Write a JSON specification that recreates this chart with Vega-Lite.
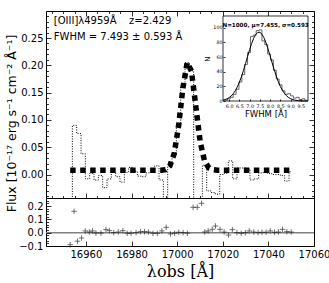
{
  "$schema": "https://vega.github.io/schema/vega-lite/v6.json",
  "padding": {"left": 4, "top": 10, "right": 0, "bottom": 0},
  "spacing": 0,
  "bounds": "flush",
  "datasets": {
    "one": [{"k": 1}],
    "spec": [
      {"lam": 16953.1, "f": -0.06, "m": 0.008},
      {"lam": 16955.0, "f": 0.09, "m": 0.008},
      {"lam": 16956.9, "f": 0.075, "m": 0.008},
      {"lam": 16958.8, "f": 0.038, "m": 0.008},
      {"lam": 16960.7, "f": -0.008, "m": 0.008},
      {"lam": 16962.6, "f": 0.002, "m": 0.008},
      {"lam": 16964.5, "f": -0.01, "m": 0.008},
      {"lam": 16966.4, "f": -0.002, "m": 0.008},
      {"lam": 16968.3, "f": -0.024, "m": 0.008},
      {"lam": 16970.2, "f": -0.008, "m": 0.008},
      {"lam": 16972.1, "f": 0.004, "m": 0.008},
      {"lam": 16974.0, "f": -0.004, "m": 0.008},
      {"lam": 16975.9, "f": -0.014, "m": 0.008},
      {"lam": 16977.8, "f": 0.004, "m": 0.008},
      {"lam": 16979.7, "f": 0.013, "m": 0.008},
      {"lam": 16981.6, "f": 0.006, "m": 0.008},
      {"lam": 16983.5, "f": -0.003, "m": 0.008},
      {"lam": 16985.4, "f": -0.004, "m": 0.008},
      {"lam": 16987.3, "f": 0.003, "m": 0.008},
      {"lam": 16989.2, "f": 0.01, "m": 0.008},
      {"lam": 16991.1, "f": 0.016, "m": 0.008},
      {"lam": 16993.0, "f": -0.01, "m": 0.008},
      {"lam": 16994.9, "f": -0.06, "m": 0.009},
      {"lam": 16996.8, "f": 0.016, "m": 0.016},
      {"lam": 16998.7, "f": 0.04, "m": 0.038},
      {"lam": 17000.6, "f": 0.09, "m": 0.088},
      {"lam": 17002.5, "f": 0.16, "m": 0.158},
      {"lam": 17004.4, "f": 0.205, "m": 0.205},
      {"lam": 17006.3, "f": 0.19, "m": 0.189},
      {"lam": 17008.2, "f": -0.06, "m": 0.124},
      {"lam": 17010.1, "f": -0.06, "m": 0.06},
      {"lam": 17012.0, "f": 0.017, "m": 0.025},
      {"lam": 17013.9, "f": -0.03, "m": 0.012},
      {"lam": 17015.8, "f": -0.033, "m": 0.009},
      {"lam": 17017.7, "f": -0.036, "m": 0.008},
      {"lam": 17019.6, "f": 0.0, "m": 0.008},
      {"lam": 17021.5, "f": 0.002, "m": 0.008},
      {"lam": 17023.4, "f": 0.025, "m": 0.008},
      {"lam": 17025.3, "f": -0.008, "m": 0.008},
      {"lam": 17027.2, "f": 0.012, "m": 0.008},
      {"lam": 17029.1, "f": 0.012, "m": 0.008},
      {"lam": 17031.0, "f": 0.01, "m": 0.008},
      {"lam": 17032.9, "f": -0.01, "m": 0.008},
      {"lam": 17034.8, "f": -0.008, "m": 0.008},
      {"lam": 17036.7, "f": 0.003, "m": 0.008},
      {"lam": 17038.6, "f": 0.004, "m": 0.008},
      {"lam": 17040.5, "f": 0.002, "m": 0.008},
      {"lam": 17042.4, "f": 0.0, "m": 0.008},
      {"lam": 17044.3, "f": 0.0, "m": 0.008},
      {"lam": 17046.2, "f": -0.002, "m": 0.008},
      {"lam": 17048.1, "f": -0.012, "m": 0.008},
      {"lam": 17050.0, "f": 0.005, "m": 0.008}
    ],
    "resid": [
      {"lam": 16953.1, "r": -0.09}, {"lam": 16954.8, "r": 0.16}, {"lam": 16956.3, "r": -0.064},
      {"lam": 16958.1, "r": -0.04}, {"lam": 16959.7, "r": 0.013}, {"lam": 16961.5, "r": 0.005},
      {"lam": 16962.9, "r": 0.013}, {"lam": 16964.4, "r": -0.003}, {"lam": 16966.6, "r": -0.003},
      {"lam": 16968.8, "r": 0.023}, {"lam": 16970.3, "r": 0.015}, {"lam": 16972.2, "r": 0.0},
      {"lam": 16974.2, "r": 0.005}, {"lam": 16976.2, "r": 0.015}, {"lam": 16978.1, "r": -0.005},
      {"lam": 16979.8, "r": -0.005}, {"lam": 16982.0, "r": 0.0}, {"lam": 16983.9, "r": 0.008},
      {"lam": 16985.7, "r": 0.008}, {"lam": 16987.4, "r": 0.005}, {"lam": 16989.4, "r": -0.005},
      {"lam": 16991.3, "r": -0.005}, {"lam": 16993.3, "r": 0.013}, {"lam": 16995.2, "r": 0.04},
      {"lam": 16997.1, "r": -0.01}, {"lam": 16998.9, "r": -0.005}, {"lam": 17000.7, "r": 0.003},
      {"lam": 17002.6, "r": 0.0}, {"lam": 17004.5, "r": -0.004}, {"lam": 17007.0, "r": 0.19},
      {"lam": 17008.8, "r": 0.19}, {"lam": 17010.7, "r": 0.22}, {"lam": 17012.1, "r": 0.005},
      {"lam": 17013.6, "r": 0.013}, {"lam": 17015.4, "r": 0.025}, {"lam": 17016.8, "r": 0.05},
      {"lam": 17018.8, "r": 0.025}, {"lam": 17020.6, "r": 0.005}, {"lam": 17022.5, "r": -0.018},
      {"lam": 17024.2, "r": 0.023}, {"lam": 17026.2, "r": 0.0}, {"lam": 17028.1, "r": -0.005},
      {"lam": 17029.9, "r": 0.0}, {"lam": 17031.6, "r": 0.013}, {"lam": 17033.6, "r": 0.005},
      {"lam": 17035.5, "r": 0.0}, {"lam": 17037.2, "r": 0.003}, {"lam": 17039.0, "r": 0.003},
      {"lam": 17040.8, "r": 0.013}, {"lam": 17042.7, "r": 0.003}, {"lam": 17044.4, "r": 0.005},
      {"lam": 17046.2, "r": 0.025}, {"lam": 17048.1, "r": 0.008}, {"lam": 17050.0, "r": 0.005}
    ],
    "hist": [
      {"i": 0, "e": 5.78, "c": 0}, {"i": 1, "e": 5.78, "c": 1}, {"i": 2, "e": 5.92, "c": 3},
      {"i": 3, "e": 6.06, "c": 5}, {"i": 4, "e": 6.20, "c": 9}, {"i": 5, "e": 6.34, "c": 16},
      {"i": 6, "e": 6.48, "c": 26}, {"i": 7, "e": 6.62, "c": 36}, {"i": 8, "e": 6.76, "c": 50},
      {"i": 9, "e": 6.90, "c": 66}, {"i": 10, "e": 7.04, "c": 88}, {"i": 11, "e": 7.18, "c": 90},
      {"i": 12, "e": 7.32, "c": 96}, {"i": 13, "e": 7.46, "c": 97}, {"i": 14, "e": 7.60, "c": 82},
      {"i": 15, "e": 7.74, "c": 77}, {"i": 16, "e": 7.88, "c": 64}, {"i": 17, "e": 8.02, "c": 56},
      {"i": 18, "e": 8.16, "c": 42}, {"i": 19, "e": 8.30, "c": 30}, {"i": 20, "e": 8.44, "c": 22},
      {"i": 21, "e": 8.58, "c": 14}, {"i": 22, "e": 8.72, "c": 9}, {"i": 23, "e": 8.86, "c": 10},
      {"i": 24, "e": 9.00, "c": 7}, {"i": 25, "e": 9.14, "c": 4}, {"i": 26, "e": 9.28, "c": 5},
      {"i": 27, "e": 9.42, "c": 2}, {"i": 28, "e": 9.56, "c": 3}, {"i": 29, "e": 9.70, "c": 1},
      {"i": 30, "e": 9.84, "c": 0}
    ],
    "curve": [
      {"x": 5.7, "n": 1.2}, {"x": 5.8, "n": 1.9}, {"x": 5.9, "n": 3.0}, {"x": 6.0, "n": 4.6},
      {"x": 6.1, "n": 6.9}, {"x": 6.2, "n": 10.0}, {"x": 6.3, "n": 14.1}, {"x": 6.4, "n": 19.3},
      {"x": 6.5, "n": 25.7}, {"x": 6.6, "n": 33.2}, {"x": 6.7, "n": 41.8}, {"x": 6.8, "n": 51.1},
      {"x": 6.9, "n": 60.7}, {"x": 7.0, "n": 70.0}, {"x": 7.1, "n": 78.6}, {"x": 7.2, "n": 85.7},
      {"x": 7.3, "n": 90.8}, {"x": 7.4, "n": 93.6}, {"x": 7.5, "n": 93.7}, {"x": 7.6, "n": 91.2},
      {"x": 7.7, "n": 86.3}, {"x": 7.8, "n": 79.4}, {"x": 7.9, "n": 70.9}, {"x": 8.0, "n": 61.6},
      {"x": 8.1, "n": 52.0}, {"x": 8.2, "n": 42.7}, {"x": 8.3, "n": 34.1}, {"x": 8.4, "n": 26.4},
      {"x": 8.5, "n": 19.9}, {"x": 8.6, "n": 14.6}, {"x": 8.7, "n": 10.4}, {"x": 8.8, "n": 7.2},
      {"x": 8.9, "n": 4.8}, {"x": 9.0, "n": 3.2}, {"x": 9.2, "n": 1.2}, {"x": 9.4, "n": 0.4},
      {"x": 9.6, "n": 0.1}, {"x": 9.85, "n": 0.0}
    ]
  },
  "vconcat": [
    {
      "width": 268,
      "height": 187,
      "layer": [
        {
          "layer": [
            {
              "data": {"name": "spec"},
              "mark": {"type": "line", "interpolate": "step", "color": "black", "strokeWidth": 1, "strokeDash": [1, 1.5], "clip": true},
              "encoding": {
                "x": {"field": "lam", "type": "quantitative", "scale": {"domain": [16942.5, 17060], "nice": false, "zero": false},
                      "axis": {"orient": "bottom", "values": [16960, 16980, 17000, 17020, 17040, 17060], "labels": false, "title": null, "tickSize": -5, "domain": false}},
                "y": {"field": "f", "type": "quantitative", "scale": {"domain": [-0.043, 0.2995], "nice": false, "zero": false},
                      "axis": {"orient": "left", "values": [0, 0.05, 0.1, 0.15, 0.2, 0.25], "format": ".2f", "tickSize": -5, "labelPadding": 8, "labelOverlap": false, "domain": false,
                               "title": "Flux [10⁻¹⁷ erg s⁻¹ cm⁻² Å⁻¹]", "titleFontSize": 12.5, "titleFontWeight": "normal", "titleBaseline": "middle", "titleX": -35, "titleY": 112}}
              }
            },
            {
              "data": {"name": "spec"},
              "mark": {"type": "line", "color": "black", "strokeWidth": 5.5, "strokeDash": [5.5, 4.5], "strokeCap": "butt"},
              "encoding": {
                "x": {"field": "lam", "type": "quantitative", "axis": {"orient": "top", "values": [16960, 16980, 17000, 17020, 17040, 17060], "labels": false, "title": null, "tickSize": -5, "domain": false}},
                "y": {"field": "m", "type": "quantitative", "axis": {"orient": "right", "values": [0, 0.05, 0.1, 0.15, 0.2, 0.25], "labels": false, "title": null, "tickSize": -5, "domain": false}}
              }
            },
            {
              "data": {"name": "one"},
              "mark": {"type": "text", "text": "[OIII]λ4959Å", "align": "left", "baseline": "middle", "fontSize": 10, "font": "DejaVu Sans"},
              "encoding": {
                "x": {"datum": 16945.9, "type": "quantitative", "axis": {"orient": "bottom", "values": [16945, 16950, 16955, 16965, 16970, 16975, 16985, 16990, 16995, 17005, 17010, 17015, 17025, 17030, 17035, 17045, 17050, 17055], "labels": false, "title": null, "tickSize": -2.5, "domain": false}},
                "y": {"datum": 0.282, "type": "quantitative", "axis": {"orient": "left", "values": [-0.04, -0.03, -0.02, -0.01, 0.01, 0.02, 0.03, 0.04, 0.06, 0.07, 0.08, 0.09, 0.11, 0.12, 0.13, 0.14, 0.16, 0.17, 0.18, 0.19, 0.21, 0.22, 0.23, 0.24, 0.26, 0.27, 0.28, 0.29], "labels": false, "title": null, "tickSize": -2.5, "domain": false}}
              }
            },
            {
              "data": {"name": "one"},
              "mark": {"type": "text", "text": "z=2.429", "align": "left", "baseline": "middle", "fontSize": 10, "font": "DejaVu Sans"},
              "encoding": {
                "x": {"datum": 16978.9, "type": "quantitative", "axis": {"orient": "top", "values": [16945, 16950, 16955, 16965, 16970, 16975, 16985, 16990, 16995, 17005, 17010, 17015, 17025, 17030, 17035, 17045, 17050, 17055], "labels": false, "title": null, "tickSize": -2.5, "domain": false}},
                "y": {"datum": 0.282, "type": "quantitative", "axis": {"orient": "right", "values": [-0.04, -0.03, -0.02, -0.01, 0.01, 0.02, 0.03, 0.04, 0.06, 0.07, 0.08, 0.09, 0.11, 0.12, 0.13, 0.14, 0.16, 0.17, 0.18, 0.19, 0.21, 0.22, 0.23, 0.24, 0.26, 0.27, 0.28, 0.29], "labels": false, "title": null, "tickSize": -2.5, "domain": false}}
              }
            },
            {
              "data": {"name": "one"},
              "mark": {"type": "text", "text": "FWHM = 7.493 ± 0.593 Å", "align": "left", "baseline": "middle", "fontSize": 10, "font": "DejaVu Sans"},
              "encoding": {"x": {"datum": 16945.9, "type": "quantitative", "axis": null}, "y": {"datum": 0.252, "type": "quantitative", "axis": null}}
            }
          ],
          "resolve": {"axis": {"x": "independent", "y": "independent"}}
        },
        {
          "layer": [
            {
              "data": {"name": "one"},
              "mark": {"type": "rect", "fill": "white", "stroke": "black", "strokeWidth": 0.8},
              "encoding": {
                "x": {"datum": 5.7, "type": "quantitative", "scale": {"domain": [5.7, 9.85], "range": [177, 262], "nice": false, "zero": false},
                      "axis": {"orient": "bottom", "offset": -97, "zindex": 1, "values": [6.0, 6.5, 7.0, 7.5, 8.0, 8.5, 9.0, 9.5], "format": ".1f", "labelFontSize": 4.8, "tickSize": -2, "labelPadding": 4, "labelOverlap": false, "labelFlush": false, "domain": false,
                               "title": "FWHM [Å]", "titleFontSize": 8.5, "titleFontWeight": "normal", "titlePadding": 2}},
                "x2": {"datum": 9.85},
                "y": {"datum": 0, "type": "quantitative", "scale": {"domain": [0, 116], "range": [90, 5], "nice": false, "zero": false},
                      "axis": {"orient": "left", "offset": -177, "zindex": 1, "values": [0, 20, 40, 60, 80, 100], "labelFontSize": 4.8, "tickSize": -2, "labelPadding": 3, "labelOverlap": false, "labelFlush": false, "domain": false,
                               "title": "N", "titleFontSize": 7, "titleFontWeight": "normal", "titlePadding": 2}},
                "y2": {"datum": 116}
              }
            },
            {
              "data": {"name": "hist"},
              "mark": {"type": "line", "interpolate": "step-after", "color": "#555", "strokeWidth": 0.9},
              "encoding": {
                "x": {"field": "e", "type": "quantitative", "axis": null},
                "y": {"field": "c", "type": "quantitative", "axis": null},
                "order": {"field": "i"}
              }
            },
            {
              "data": {"name": "curve"},
              "mark": {"type": "line", "color": "black", "strokeWidth": 1},
              "encoding": {
                "x": {"field": "x", "type": "quantitative", "axis": null},
                "y": {"field": "n", "type": "quantitative", "axis": null}
              }
            },
            {
              "data": {"name": "one"},
              "mark": {"type": "text", "text": "N=1000, μ=7.455, σ=0.593", "align": "center", "baseline": "middle", "fontSize": 5.6, "fontWeight": "bold", "font": "DejaVu Sans"},
              "encoding": {"x": {"datum": 7.78, "type": "quantitative", "axis": null}, "y": {"datum": 104, "type": "quantitative", "axis": null}}
            }
          ],
          "resolve": {"axis": {"x": "independent", "y": "independent"}}
        }
      ],
      "resolve": {"scale": {"x": "independent", "y": "independent"}, "axis": {"x": "independent", "y": "independent"}}
    },
    {
      "width": 268,
      "height": 48,
      "layer": [
        {
          "data": {"name": "one"},
          "mark": {"type": "rule", "color": "#808080", "strokeWidth": 1.5},
          "encoding": {"y": {"datum": 0, "type": "quantitative",
                             "axis": {"orient": "left", "values": [-0.08, -0.06, -0.04, -0.02, 0.02, 0.04, 0.06, 0.08, 0.12, 0.14, 0.16, 0.18, 0.22, 0.24], "labels": false, "title": null, "tickSize": -2.5, "domain": false}}}
        },
        {
          "data": {"name": "resid"},
          "mark": {"type": "point", "shape": "M-1,0L1,0M0,-1L0,1", "filled": false, "stroke": "black", "strokeWidth": 0.8, "size": 30},
          "encoding": {
            "x": {"field": "lam", "type": "quantitative", "scale": {"domain": [16942.5, 17060], "nice": false, "zero": false},
                  "axis": {"orient": "bottom", "values": [16960, 16980, 17000, 17020, 17040, 17060], "format": "d", "tickSize": -5, "labelPadding": 8, "labelOverlap": false, "labelFlush": false, "domain": false,
                           "title": "λobs [Å]", "titleFont": "DejaVu Serif", "titleFontSize": 16, "titleFontWeight": "normal", "titlePadding": 4}},
            "y": {"field": "r", "type": "quantitative", "scale": {"domain": [-0.1, 0.26], "nice": false, "zero": false},
                  "axis": {"orient": "left", "values": [-0.1, 0, 0.1, 0.2], "format": ".1f", "tickSize": -5, "labelPadding": 8, "labelOverlap": false, "labelFlush": false, "zindex": 1, "domain": false, "title": null}}
          }
        }
      ],
      "resolve": {"axis": {"x": "independent", "y": "independent"}}
    }
  ],
  "config": {
    "view": {"stroke": "black", "strokeWidth": 1},
    "font": "DejaVu Sans",
    "axis": {"grid": false, "labelOverlap": false, "labelFont": "DejaVu Sans", "titleFont": "DejaVu Sans", "labelFontSize": 10, "labelColor": "black", "titleColor": "black", "tickColor": "black", "tickWidth": 0.8}
  }
}
